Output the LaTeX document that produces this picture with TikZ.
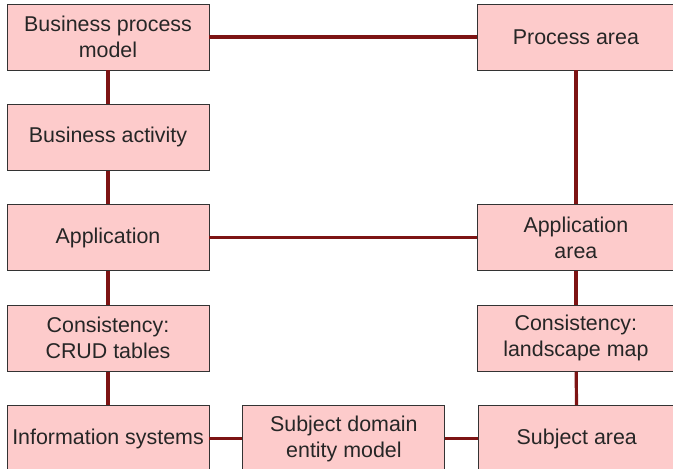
\documentclass[tikz,border=0pt]{standalone}
\usepackage{fontspec}
\setmainfont{Liberation Sans}
\usetikzlibrary{positioning}

\definecolor{boxfill}{HTML}{FDCBCB}
\definecolor{boxdraw}{HTML}{333333}
\definecolor{linkred}{HTML}{7D1414}

\begin{document}
\begin{tikzpicture}[
    x=1pt, y=1pt,
    node distance=33.5pt and 33pt,
    block/.style={
        rectangle,
        draw=boxdraw,
        line width=0.9pt,
        fill=boxfill,
        text=black!85,
        minimum width=202pt,
        minimum height=66pt,
        align=center,
        inner sep=0pt,
        font=\fontsize{21.4}{26}\selectfont
    },
    block_right/.style={
        block,
        minimum width=196pt
    },
    line/.style={
        draw=linkred,
        line width=3.2pt
    }
]
    \useasboundingbox (0,0) rectangle (673,-469);

    % --- Nodes (left column) ---
    \node [block] (bpm) at (108,-37) {Business process\\model};
    \node [block, below=of bpm] (activity) {Business activity};
    \node [block, below=of activity] (application) {Application};
    \node [block, below=of application] (crud) {Consistency:\\CRUD tables};
    \node [block, below=of crud] (infosys) {Information systems};

    % --- Nodes (right column and bottom) ---
    \node [block_right, right=268pt of bpm] (processarea) {Process area};
    \node [block_right, right=268pt of application] (apparea) {Application\\area};
    \node [block_right, right=268pt of crud] (landscape) {Consistency:\\landscape map};
    \node [block, right=of infosys] (entity) {Subject domain\\entity model};
    \node [block_right, right=of entity] (subjectarea) {Subject area};

    % --- Links ---
    \path [line] (bpm) -- (processarea);
    \path [line] (bpm) -- (activity);
    \path [line] (activity) -- (application);
    \path [line] (application) -- (apparea);
    \path [line] (application) -- (crud);
    \path [line] (crud) -- (infosys);
    \path [line] (processarea) -- (apparea);
    \path [line] (apparea) -- (landscape);
    \path [line] (landscape) -- (subjectarea);
    \path [line] (infosys) -- (entity);
    \path [line] (entity) -- (subjectarea);

\end{tikzpicture}
\end{document}
